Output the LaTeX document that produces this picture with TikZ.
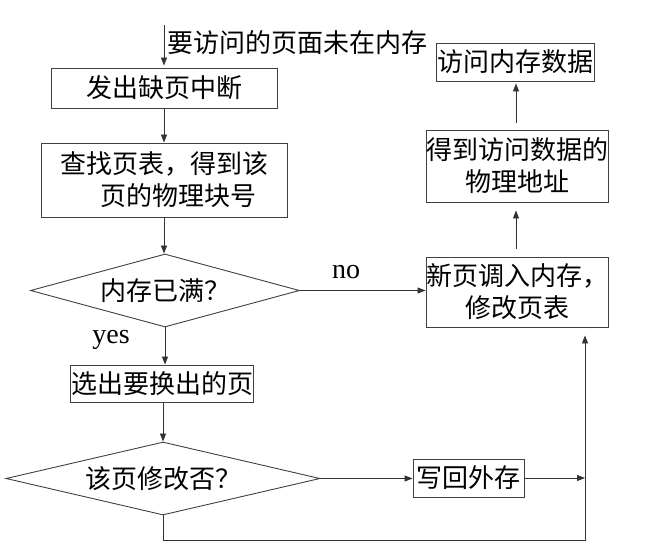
\documentclass[tikz,border=0pt]{standalone}
\usepackage{fontspec}
\setmainfont{Liberation Serif}
\newfontfamily\cjk{Noto Sans CJK SC}
\usetikzlibrary{arrows.meta,shapes.geometric}
\begin{document}
\begin{tikzpicture}[x=1pt,y=-1pt,
  every node/.style={font=\cjk\fontsize{26}{32}\selectfont, text=black},
  box/.style={draw=black!75, line width=0.9pt, inner sep=0pt, align=center},
  dia/.style={diamond, draw=black!75, line width=0.9pt, inner sep=0pt, aspect=3.7},
  lbl/.style={font=\fontsize{28}{30}\selectfont, inner sep=0pt},
  arr/.style={draw=black!80, line width=0.8pt, -{Triangle[length=8pt,width=6pt]}},
  ln/.style={draw=black!80, line width=0.8pt}]
\useasboundingbox (0,0) rectangle (654,547);
\node[box, minimum width=226, minimum height=40] (b1) at (164,88) {发出缺页中断};
\node[box, minimum width=246, minimum height=74] (b2) at (164,180) {查找页表，得到该\\\hspace*{28pt}页的物理块号};
\node[dia, minimum width=269, minimum height=73] (d1) at (165,290.5) {内存已满？};
\node[box, minimum width=183, minimum height=37] (b3) at (162,383.5) {选出要换出的页};
\node[dia, minimum width=314, minimum height=73] (d2) at (163,478.5) {该页修改否？};
\node[box, minimum width=111, minimum height=38] (b4) at (468.5,478) {写回外存};
\node[box, minimum width=158, minimum height=38] (b5) at (515,62) {访问内存数据};
\node[box, minimum width=182, minimum height=72] (b6) at (517,166) {得到访问数据的\\物理地址};
\node[box, minimum width=182, minimum height=70] (b7) at (517,292) {新页调入内存，\\修改页表};
\node[anchor=west, inner sep=0pt] (t0) at (167,43) {要访问的页面未在内存};
\node[lbl] (no) at (346,272) {no};
\node[lbl] (yes) at (111,340) {yes};
\coordinate (s0) at (164,25);
\coordinate (c1) at (163,540);
\coordinate (c2) at (585,540);
\coordinate (c3) at (585,478);
\draw[arr, shorten >=2pt] (s0) -- (b1.north);
\draw[arr] (b1) -- (b2);
\draw[arr] (b2.south) -- (b2.south |- d1.north);
\draw[arr] (d1.south) -- (b3.north -| d1.south);
\draw[arr] (b3.south -| d2.north) -- (d2.north);
\draw[arr] (d1.east) -- (b7.west |- d1.east);
\draw[arr] (d2.east) -- (b4.west |- d2.east);
\draw[arr] (b4.east) -- (c3);
\draw[arr, shorten <=8pt, shorten >=8pt] (b7.north -| 516,0) -- (b6.south -| 516,0);
\draw[arr, shorten <=7pt, shorten >=2pt] (b6.north -| 516,0) -- (b5.south -| 516,0);
\draw[ln] (d2.south) -- (c1) -- (c2) -- (c3);
\draw[arr, shorten >=8pt] (c3) -- (b7.south -| c3);
\end{tikzpicture}
\end{document}
